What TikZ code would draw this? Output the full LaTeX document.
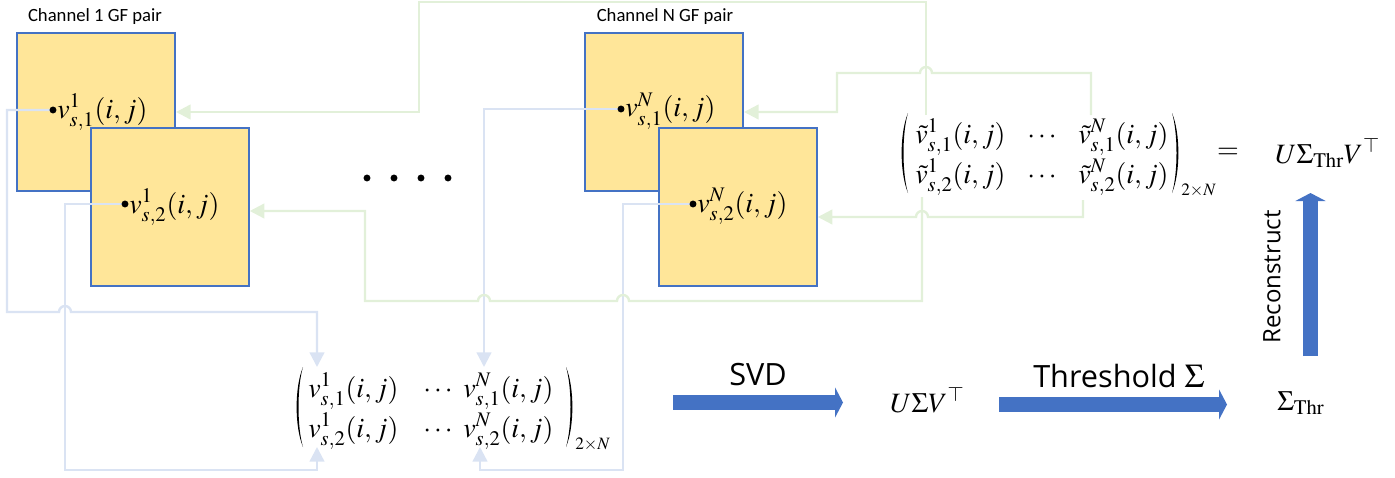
\documentclass[tikz,border=0pt]{standalone}
\usepackage{mathptmx}
\usepackage[no-math]{fontspec}
\newfontfamily\labelfont{Carlito}
\newfontfamily\stepfont{Open Sans}
\usetikzlibrary{arrows.meta}
\definecolor{gfFill}{HTML}{FFE699}
\definecolor{gfEdge}{HTML}{4472C4}
\definecolor{fwdLine}{HTML}{DAE3F3}
\definecolor{backLine}{HTML}{E2F0D9}
\definecolor{opArrow}{HTML}{4472C4}
\tikzset{
  gfbox/.style={draw=gfEdge, fill=gfFill, line width=1.5pt,
    minimum width=118.5pt, minimum height=118.5pt, inner sep=0pt},
  gfterm/.style={font=\fontsize{21}{25}\selectfont, inner sep=0pt, anchor=base west},
  dimlab/.style={font=\fontsize{13}{15}\selectfont, inner sep=0pt, anchor=base west},
  chlabel/.style={font=\labelfont\fontsize{14}{16}\selectfont, inner sep=0pt},
  steplabel/.style={font=\stepfont\fontsize{23}{27}\selectfont, inner sep=0pt},
  pick/.style={draw=fwdLine, line width=1.8pt, -{Triangle[width=11pt,length=11pt]}},
  put/.style={draw=backLine, line width=1.8pt, -{Triangle[width=11pt,length=11pt]}},
  opstep/.style={draw=opArrow, line width=11.25pt, -{Triangle[width=22.5pt,length=6pt]}},
  pixel/.style={fill=black}
}
% thin matrix parentheses: #1 = outermost x, #2 = top y, #3 = bottom y
\newcommand{\openparen}[3]{%
  \fill[pixel] (#1+6,#2) .. controls (#1-2.5,#2+20) and (#1-2.5,#3-20) .. (#1+6,#3)
    .. controls (#1,#3-20) and (#1,#2+20) .. cycle;}
\newcommand{\closeparen}[3]{%
  \fill[pixel] (#1-6,#2) .. controls (#1+2.5,#2+20) and (#1+2.5,#3-20) .. (#1-6,#3)
    .. controls (#1,#3-20) and (#1,#2+20) .. cycle;}
\begin{document}
\begin{tikzpicture}[x=0.75pt, y=-0.75pt]
\useasboundingbox (0,0) rectangle (1395,478);

% ---- channel 1 GF pair ----
\node[chlabel] (lab1) at (95,17) {Channel 1 GF pair};
\node[gfbox] (c1a) at (96,112) {};
\coordinate (p1a) at (53,110);
\node[gfterm] (t1a) at (57,118) {$v^{1}_{s,1}(i,j)$};
\node[gfbox] (c1b) at (170,207) {};
\coordinate (p1b) at (125,204);
\node[gfterm] (t1b) at (129,213) {$v^{1}_{s,2}(i,j)$};

% ---- ellipsis between channels ----
\foreach \x in {367,394,421,448} \fill[pixel] (\x,178) circle (2.6pt);

% ---- channel N GF pair ----
\node[chlabel] (labN) at (665,17) {Channel N GF pair};
\node[gfbox] (cNa) at (664,112) {};
\coordinate (pNa) at (621,109);
\node[gfterm] (tNa) at (625,117) {$v^{N}_{s,1}(i,j)$};
\node[gfbox] (cNb) at (738,207) {};
\coordinate (pNb) at (693,204);
\node[gfterm] (tNb) at (697,212) {$v^{N}_{s,2}(i,j)$};

% ---- stacked matrix of samples ----
\openparen{297}{367}{447}
\node[gfterm] (m11) at (308,397) {$v^{1}_{s,1}(i,j)$};
\node[gfterm] (md1) at (423,397) {$\cdots$};
\node[gfterm] (m12) at (463,397) {$v^{N}_{s,1}(i,j)$};
\node[gfterm] (m21) at (308,437) {$v^{1}_{s,2}(i,j)$};
\node[gfterm] (md2) at (423,437) {$\cdots$};
\node[gfterm] (m22) at (463,437) {$v^{N}_{s,2}(i,j)$};
\closeparen{572}{367}{447}
\node[dimlab] (mdim) at (575,449) {$2{\times}N$};

% ---- reconstructed matrix ----
\openparen{902}{113}{193}
\node[gfterm] (r11) at (915,143) {$\tilde{v}^{1}_{s,1}(i,j)$};
\node[gfterm] (rd1) at (1027,143) {$\cdots$};
\node[gfterm] (r12) at (1078,143) {$\tilde{v}^{N}_{s,1}(i,j)$};
\node[gfterm] (r21) at (915,183) {$\tilde{v}^{1}_{s,2}(i,j)$};
\node[gfterm] (rd2) at (1027,183) {$\cdots$};
\node[gfterm] (r22) at (1078,183) {$\tilde{v}^{N}_{s,2}(i,j)$};
\closeparen{1178}{113}{193}
\node[dimlab] (tdim) at (1181,195) {$2{\times}N$};

\node[gfterm, anchor=center] (eq) at (1228,153) {$=$};
\node[gfterm] (usvthr) at (1275,163) {$U\Sigma_{\mathrm{Thr}}V^{\top}$};

% ---- SVD, thresholding, reconstruction ----
\node[gfterm] (usv) at (890,412) {$U\Sigma V^{\top}$};
\node[gfterm] (sthr) at (1277,410) {$\Sigma_{\mathrm{Thr}}$};

\coordinate (svdA) at (673,402.5);
\coordinate (svdB) at (843,402.5);
\draw[opstep] (svdA) -- (svdB);
\node[steplabel, anchor=base] (svdlab) at (758,385) {SVD};

\coordinate (thrA) at (999,404.5);
\coordinate (thrB) at (1227,404.5);
\draw[opstep] (thrA) -- (thrB);
\node[steplabel, anchor=base west] (thrlab) at (1033,387) {Threshold {\fontsize{25}{29}\selectfont$\Sigma$}};

\coordinate (recA) at (1310.5,356);
\coordinate (recB) at (1310.5,193);
\draw[opstep] (recA) -- (recB);
\node[steplabel, font=\stepfont\fontsize{18}{22}\selectfont, rotate=90] (reclab) at (1272,277) {Reconstruct};

% ---- gathering samples into the matrix ----
\coordinate (in11) at (317,367);
\coordinate (in21) at (317,447);
\coordinate (in12) at (484,367);
\coordinate (in22) at (480,447);
\draw[pick] (p1a) -- (7,110) -- (7,312) -- (59,312)
  arc[start angle=180, end angle=0, radius=4.5pt] -- (317,312) -- (in11);
\draw[pick] (p1b) -- (65,204) -- (65,470) -- (317,470) -- (in21);
\draw[pick] (pNa) -- (484,109) -- (in12);
\draw[pick] (pNb) -- (623,204) -- (623,470) -- (480,470) -- (in22);

% ---- writing filtered samples back ----
\coordinate (o11) at (926,115);
\coordinate (o12) at (1091,115);
\coordinate (o21) at (922,197);
\coordinate (o22) at (1083,200);
\coordinate (back1b) at (249.75,211);
\coordinate (backNb) at (817.75,217);
\draw[put] (o11) -- (926,2) -- (419,2) -- (419,112) -- (c1a.east);
\draw[put] (o12) -- (1091,73) -- (932,73)
  arc[start angle=0, end angle=180, radius=4.5pt] -- (837,73) -- (837,112) -- (cNa.east);
\draw[put] (o21) -- (922,301) -- (629,301)
  arc[start angle=0, end angle=180, radius=4.5pt] -- (490,301)
  arc[start angle=0, end angle=180, radius=4.5pt] -- (365,301) -- (365,211) -- (back1b);
\draw[put] (o22) -- (1083,217) -- (928,217)
  arc[start angle=0, end angle=180, radius=4.5pt] -- (backNb);

% ---- sample points, drawn over the connector ends ----
\foreach \p in {p1a,p1b,pNa,pNb} \fill[pixel] (\p) circle (2.6pt);
\end{tikzpicture}
\end{document}
